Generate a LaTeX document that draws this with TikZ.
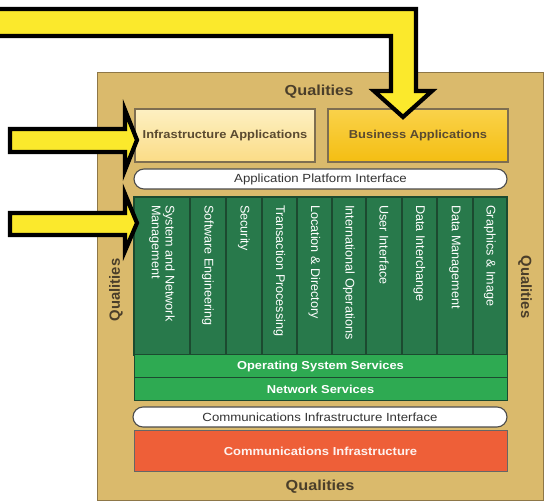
\documentclass[tikz,border=0pt]{standalone}
\usepackage{fontspec}
\setmainfont{Liberation Sans}[FakeStretch=1.12]
\newfontfamily\rotfont{Liberation Sans}
\definecolor{tan}{HTML}{DABA6C}
\definecolor{tanedge}{HTML}{8E7747}
\definecolor{qual}{HTML}{4A3E2A}
\definecolor{infratop}{HTML}{FDF0C2}
\definecolor{infrabot}{HTML}{FBDC86}
\definecolor{bustop}{HTML}{FAD24A}
\definecolor{busbot}{HTML}{F4BE12}
\definecolor{boxedge}{HTML}{7E6E50}
\definecolor{appink}{HTML}{5A4A30}
\definecolor{colgreen}{HTML}{28794B}
\definecolor{colline}{HTML}{1C4A30}
\definecolor{svcgreen}{HTML}{2EAA52}
\definecolor{comm}{HTML}{EE5F38}
\definecolor{arrowyel}{HTML}{FBE92C}
\begin{document}
\begin{tikzpicture}[x=1pt,y=-1pt,
  qualtxt/.style={font=\fontsize{14.5}{16}\selectfont\bfseries, text=qual, inner sep=0},
  qualrot/.style={font=\rotfont\fontsize{14.8}{16}\selectfont\bfseries, text=qual, inner sep=0},
  appbox/.style={draw=boxedge, line width=1.2pt, minimum width=180, minimum height=53, inner sep=0,
    font=\fontsize{11.5}{14}\selectfont\bfseries, text=appink},
  pill/.style={draw=black!70, line width=1.1pt, fill=white, rounded corners=10, minimum height=20, inner sep=0,
    font=\fontsize{11.8}{14}\selectfont, text=black!80},
  column/.style={draw=colline, line width=1.2pt, fill=colgreen, minimum height=158, inner sep=0},
  coltxt/.style={font=\rotfont\fontsize{12.6}{13.6}\selectfont, text=white, rotate=-90, anchor=west,
    inner sep=0, align=left},
  svc/.style={draw=colline, line width=1.0pt, fill=svcgreen, minimum width=373, minimum height=23, inner sep=0,
    font=\fontsize{11.5}{14}\selectfont\bfseries, text=white},
  bigarrow/.style={draw=black, line width=4.2pt, fill=arrowyel, line join=miter, miter limit=10}
]
\useasboundingbox (0,0) rectangle (544,502);
\fill[white] (0,0) rectangle (544,502);

% outer frame
\node[draw=tanedge, line width=1pt, fill=tan, minimum width=446, minimum height=428, inner sep=0]
  (frame) at (320,287) {};
\node[qualtxt] (qtop) at (319,92) {Qualities};
\node[qualtxt] (qbot) at (320,487) {Qualities};
\node[qualrot, rotate=90] (qleft) at (116,290) {Qualities};
\node[qualrot, rotate=-90] (qright) at (525,287) {Qualities};

% application layer
\node[appbox, top color=infratop, bottom color=infrabot] (infra) at (225,135.5) {Infrastructure Applications};
\node[appbox, top color=bustop, bottom color=busbot] (bus) at (418,135.5) {Business Applications};
\node[pill, minimum width=373] (api) at (320.5,179) {Application Platform Interface};

% platform service columns
\node[column, minimum width=56] (c1) at (162,276) {};
\node[column, minimum width=36] (c2) at (208,276) {};
\node[column, minimum width=36] (c3) at (244,276) {};
\node[column, minimum width=35] (c4) at (279.5,276) {};
\node[column, minimum width=35] (c5) at (314.5,276) {};
\node[column, minimum width=34] (c6) at (349,276) {};
\node[column, minimum width=36] (c7) at (384,276) {};
\node[column, minimum width=35] (c8) at (419.5,276) {};
\node[column, minimum width=36] (c9) at (455,276) {};
\node[column, minimum width=34] (c10) at (490,276) {};

\node[coltxt] (t1) at (162,205) {System and Network\\Management};
\node[coltxt] (t2) at (208,205) {Software Engineering};
\node[coltxt] (t3) at (244,205) {Security};
\node[coltxt] (t4) at (279.5,205) {Transaction Processing};
\node[coltxt] (t5) at (314.5,205) {Location \& Directory};
\node[coltxt] (t6) at (349,205) {International Operations};
\node[coltxt] (t7) at (384,205) {User Interface};
\node[coltxt] (t8) at (419.5,205) {Data Interchange};
\node[coltxt] (t9) at (455,205) {Data Management};
\node[coltxt] (t10) at (490,205) {Graphics \& Image};

\node[svc] (os) at (320.5,366.5) {Operating System Services};
\node[svc] (net) at (320.5,389.5) {Network Services};

% communications layer
\node[pill, minimum width=374] (cii) at (320,417) {Communications Infrastructure Interface};
\node[draw=black!60, line width=1pt, fill=comm, minimum width=373, minimum height=41, inner sep=0,
  font=\fontsize{11.6}{14}\selectfont\bfseries, text=white!92!comm] (ci) at (320.5,451.5) {Communications Infrastructure};

% pointer arrows
\draw[bigarrow] (-6,9) -- (416,9) -- (416,91) -- (432,91) -- (403,117) -- (374,91) -- (391,91)
  -- (391,36) -- (-6,36) -- cycle;
\draw[bigarrow] (10,129) -- (125,129) -- (125,110) -- (137,140) -- (125,170) -- (125,152) -- (10,152) -- cycle;
\draw[bigarrow] (10,213) -- (125,213) -- (125,194) -- (137,223) -- (125,251) -- (125,235) -- (10,235) -- cycle;
\end{tikzpicture}
\end{document}
